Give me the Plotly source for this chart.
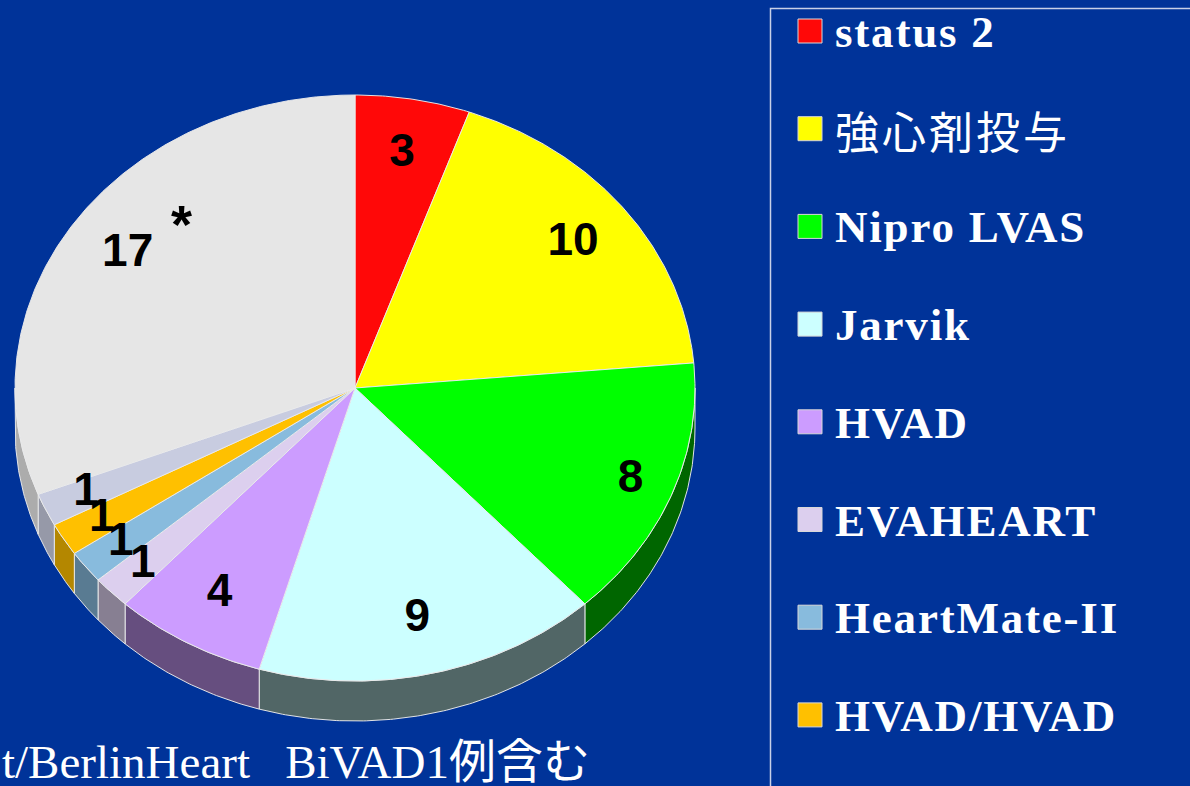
import numpy as np
import plotly.graph_objects as go

# ---------------- data ----------------
categories = ["status 2", "強心剤投与", "Nipro LVAS", "Jarvik", "HVAD",
              "EVAHEART", "HeartMate-II", "HVAD/HVAD", "その他", "その他*"]
values = [3, 10, 8, 9, 4, 1, 1, 1, 1, 17]
value_labels = ["3", "10", "8", "9", "4", "1", "1", "1", "1", "17"]
legend_count = 8          # legend entries visible in the frame
note_text = "t/BerlinHeart\u00a0\u00a0\u00a0BiVAD1例含む"

# ---------------- style ----------------
colors = ["#ff0808", "#ffff00", "#00ff00", "#ccffff", "#cc9cff",
          "#dccfee", "#88bbdd", "#ffc000", "#c8cce0", "#e6e6e6"]
label_r = [0.81, 0.81, 0.87, 0.81, 0.81, 0.87, 0.87, 0.87, 0.87, 0.81]
BG = "#003399"
W, H = 1190, 786
CX, CY, RX, RY, DEPTH = 355, 388, 340, 293, 40
EDGE = "rgba(235,235,235,0.95)"


def shade(hex_color, f):
    h = hex_color.lstrip("#")
    r, g, b = (int(h[i:i + 2], 16) for i in (0, 2, 4))
    return "rgb(%d,%d,%d)" % (r * f, g * f, b * f)


def ell(theta_deg, k=1.0, dy=0.0):
    t = np.radians(theta_deg)
    return CX + k * RX * np.sin(t), CY - k * RY * np.cos(t) + dy


fig = go.Figure()

total = float(sum(values))
bounds = np.concatenate([[0.0], np.cumsum(values) / total * 360.0])

# ---- side walls (front half only: 90..270 deg clockwise from top) ----
for i, v in enumerate(values):
    a0, a1 = max(bounds[i], 90.0), min(bounds[i + 1], 270.0)
    if a0 >= a1:
        continue
    n = max(3, int((a1 - a0) * 2))
    th = np.linspace(a0, a1, n)
    xt, yt = ell(th)
    xb, yb = ell(th[::-1], dy=DEPTH)
    xs = np.concatenate([xt, xb, xt[:1]])
    ys = np.concatenate([yt, yb, yt[:1]])
    mid = 0.5 * (a0 + a1)
    f = 0.4 + 0.35 * np.clip((mid - 195.0) / 50.0, 0, 1)
    fig.add_trace(go.Scatter(x=xs, y=ys, mode="lines", fill="toself",
                             fillcolor=shade(colors[i], f),
                             line=dict(color=EDGE, width=1),
                             hoverinfo="skip", showlegend=False))

# ---- top faces ----
for i, v in enumerate(values):
    a0, a1 = bounds[i], bounds[i + 1]
    n = max(3, int((a1 - a0) * 2))
    th = np.linspace(a0, a1, n)
    xa, ya = ell(th)
    xs = np.concatenate([[CX], xa, [CX]])
    ys = np.concatenate([[CY], ya, [CY]])
    fig.add_trace(go.Scatter(x=xs, y=ys, mode="lines", fill="toself",
                             fillcolor=colors[i],
                             line=dict(color=EDGE, width=1),
                             name=categories[i], text=f"{categories[i]}: {v}",
                             hoverinfo="text", showlegend=False))

# ---- value labels ----
mids = 0.5 * (bounds[:-1] + bounds[1:])
lx, ly = [], []
for m, k in zip(mids, label_r):
    x, y = ell(m, k=k)
    lx.append(x)
    ly.append(y)
fig.add_trace(go.Scatter(x=lx, y=ly, mode="text", text=value_labels,
                         textposition="middle center",
                         textfont=dict(family="Liberation Sans, Arial", size=46,
                                       color="black", weight="bold"),
                         hoverinfo="skip", showlegend=False))

# asterisk next to the largest slice
big = int(np.argmax(values))
ax_, ay_ = ell(mids[big], k=label_r[big])
fig.add_annotation(x=ax_ + 54, y=ay_ - 30, text="*", showarrow=False,
                   xanchor="center", yanchor="middle",
                   font=dict(family="Liberation Sans, Arial", size=54, color="black",
                             weight="bold"))

# ---- legend (manual) ----
shapes = [dict(type="rect", xref="x", yref="y", x0=770.5, y0=8.5, x1=1250, y1=850,
               line=dict(color="#c8d0e8", width=1.5), fillcolor="rgba(0,0,0,0)",
               layer="above")]
for i in range(legend_count):
    yc = 31 + i * 97.7
    shapes.append(dict(type="rect", xref="x", yref="y", x0=798, x1=822,
                       y0=yc - 12, y1=yc + 12, fillcolor=colors[i],
                       line=dict(color="#d8d8d8", width=1), layer="above"))
    is_cjk = any(ord(c) > 0x2e80 for c in categories[i])
    spacing = "3px" if is_cjk else "1.8px"
    fig.add_annotation(x=833, y=yc + 1,
                       text=f'<span style="letter-spacing:{spacing}">{categories[i]}</span>',
                       showarrow=False, xanchor="left", yanchor="middle",
                       font=dict(family=("Noto Sans CJK JP" if is_cjk
                                         else "Liberation Serif, Times New Roman"),
                                 size=(44 if is_cjk else 45), color="white",
                                 weight=("normal" if is_cjk else "bold")))

# ---- bottom note ----
fig.add_annotation(xref="paper", yref="y", x=0, y=762, text=note_text,
                   showarrow=False, xanchor="left", yanchor="middle",
                   font=dict(family="Liberation Serif, Noto Sans CJK JP", size=47,
                             color="white"))

fig.update_layout(
    width=W, height=H, margin=dict(l=0, r=0, t=0, b=0),
    paper_bgcolor=BG, plot_bgcolor=BG,
    xaxis=dict(range=[0, W], visible=False, fixedrange=True),
    yaxis=dict(range=[H, 0], visible=False, fixedrange=True),
    shapes=shapes, showlegend=False,
)

fig.write_html("out.html", config={"displayModeBar": False},
               post_script="document.body.style.margin='0px';"
                           "document.body.style.overflow='hidden';")
